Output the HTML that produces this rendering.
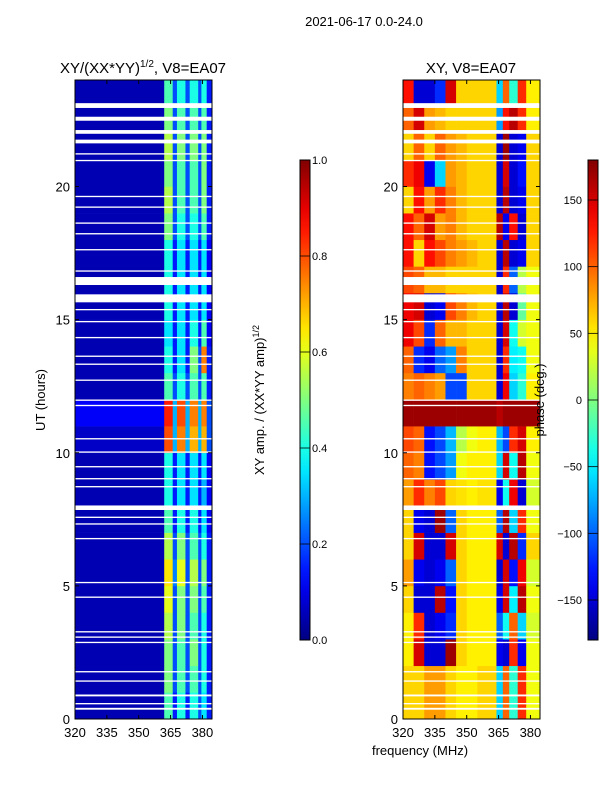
<!DOCTYPE html>
<html><head><meta charset="utf-8"><style>
body{margin:0;background:#fff;font-family:"Liberation Sans","DejaVu Sans",sans-serif}
svg text{font-family:"Liberation Sans","DejaVu Sans",sans-serif;fill:#000}
</style></head><body>
<svg id="fig" width="600" height="800" viewBox="0 0 600 800" xmlns="http://www.w3.org/2000/svg">
<text x="364" y="26" font-size="13" text-anchor="middle">2021-06-17 0.0-24.0</text>
<text x="143" y="73" font-size="15" text-anchor="middle">XY/(XX*YY)<tspan font-size="10" dy="-6">1/2</tspan><tspan dy="6">, V8=EA07</tspan></text>
<text x="471" y="73" font-size="15" text-anchor="middle">XY, V8=EA07</text>
<text transform="translate(45,400) rotate(-90)" font-size="13" text-anchor="middle">UT (hours)</text>
<text transform="translate(264,400) rotate(-90)" font-size="13" text-anchor="middle">XY amp. / (XX*YY amp)<tspan font-size="9" dy="-5">1/2</tspan></text>
<g id="left"></g>
<g id="right"></g>
<g id="cb1"></g>
<g id="cb2"></g>
<text transform="translate(544,400) rotate(-90)" font-size="13" text-anchor="middle">phase (deg.)</text>
<text x="420" y="755" font-size="13" text-anchor="middle">frequency (MHz)</text>
</svg>
<script>
const ampEdges=[320,362,366,368,372,374,378,379.5,382,384.5];
const ampRows=[
[.05,.45,.15,.4,.15,.4,.2,.35,.15],[.05,.5,.2,.45,.2,.45,.2,.4,.15],[.05,.5,.2,.45,.2,.5,.2,.4,.15],
[.05,.55,.2,.5,.2,.45,.2,.4,.15],[.05,.6,.2,.5,.2,.5,.2,.45,.15],[.05,.65,.25,.6,.2,.55,.2,.5,.15],
[.05,.55,.2,.5,.2,.45,.2,.4,.15],[.05,.45,.15,.4,.15,.4,.15,.35,.12],[.05,.4,.15,.35,.15,.35,.15,.3,.12],
[.05,.4,.15,.35,.15,.35,.15,.35,.12],[.07,.8,.3,.75,.3,.7,.3,.7,.2],[.12,.85,.3,.8,.3,.75,.3,.75,.2],
[.05,.45,.2,.4,.2,.45,.2,.45,.15],[.05,.4,.15,.35,.15,.5,.2,.75,.15],[.05,.35,.15,.35,.15,.4,.15,.45,.12],
[.05,.4,.15,.35,.15,.35,.15,.35,.12],[.05,.4,.15,.35,.15,.35,.15,.35,.12],[.05,.4,.15,.35,.15,.35,.15,.35,.12],
[.05,.5,.2,.4,.2,.4,.2,.45,.15],[.05,.55,.2,.45,.2,.45,.2,.5,.15],[.05,.5,.2,.45,.2,.45,.2,.5,.15],
[.05,.55,.2,.5,.2,.5,.2,.5,.15],[.05,.5,.2,.45,.2,.45,.2,.45,.15],[.05,.45,.2,.4,.2,.4,.2,.4,.15]];
const phEdges=[320,325,330,335,340,345,350,355,364,367,370,374,378,384.5];
const phRows=[
[60,60,80,80,60,50,50,60,-60,100,-30,120,40],[60,60,80,80,60,50,50,60,-60,100,-30,120,40],
[50,150,-150,-150,170,60,50,50,-140,-150,120,-140,40],[50,120,-150,-140,-120,60,50,50,-100,-40,100,-60,30],
[60,-150,-150,160,-130,60,50,50,-140,150,-50,160,40],[80,-140,-150,-140,-100,60,50,50,-150,150,-130,140,30],
[60,150,-150,-150,150,60,50,50,150,-150,160,-120,60],[60,-140,-150,170,-100,60,50,50,-100,160,-60,120,40],
[80,120,90,110,60,55,50,55,-140,-40,140,-150,30],[100,90,-130,-110,-80,40,50,50,-60,150,-40,160,40],
[110,100,-130,-110,-70,20,40,50,-70,-110,120,150,50],[170,170,170,170,170,170,170,170,160,170,170,170,170],
[90,100,90,80,-110,-110,60,60,-150,140,-60,-30,50],[100,-120,-140,-100,-80,90,60,60,-150,120,-50,-40,40],
[140,110,-120,100,70,70,60,60,-150,150,-40,30,40],[140,150,-150,-140,110,90,70,60,-150,160,-150,-10,40],
[110,100,70,70,60,60,60,60,-150,120,-100,20,40],[130,60,130,110,90,80,70,60,-150,160,-150,-140,60],
[130,100,150,80,90,70,60,60,160,-140,130,-150,60],[60,130,80,120,90,70,60,60,-150,160,-150,-140,60],
[120,140,-140,-60,80,70,60,60,-150,150,-150,-130,60],[60,100,60,100,80,70,60,60,-150,170,-150,-140,60],
[100,150,80,70,60,60,60,60,-80,130,160,120,50],[130,-150,-150,-120,150,60,60,60,-60,100,-30,120,50]];
const gaps=[[22.95,23.13],[22.47,22.62],[21.98,22.12],[21.62,21.76],[21.2,21.25],[20.95,21.0],[19.6,19.65],[19.2,19.25],[18.6,18.65],[18.2,18.25],[17.6,17.65],[16.8,16.85],[16.3,16.6],[15.65,15.95],[15.35,15.4],[14.9,14.95],[14.3,14.35],[13.6,13.65],[13.3,13.35],[12.7,12.75],[11.95,12.0],[11.75,11.8],[10.5,10.55],[10.0,10.05],[9.45,9.5],[9.0,9.05],[8.7,8.75],[7.85,8.02],[7.55,7.6],[7.3,7.35],[6.75,6.8],[5.1,5.15],[4.55,4.6],[3.25,3.3],[3.05,3.1],[2.85,2.9],[1.75,1.8],[1.4,1.45],[0.85,0.92],[0.55,0.6],[0.35,0.42]];
const yTicks=[0,5,10,15,20];
const xTicks=[320,335,350,365,380];
const ampTicks=[0.0,0.2,0.4,0.6,0.8,1.0];
const phTicks=[-150,-100,-50,0,50,100,150];

const NS='http://www.w3.org/2000/svg';
function jet(v){v=Math.max(0,Math.min(1,v));
 const c=x=>Math.round(255*Math.max(0,Math.min(1,1.5-Math.abs(4*v-x))));
 return `rgb(${c(3)},${c(2)},${c(1)})`;}
function mk(p,t,a){const e=document.createElementNS(NS,t);for(const k in a)e.setAttribute(k,a[k]);p.appendChild(e);return e;}
const Y0=719,Y1=80,yS=h=>Y0-(Y0-Y1)*h/24;
function panel(g,L,edges,rows,norm){
 const W=137,xS=f=>L+W*(f-320)/64.5;
 rows.forEach((row,h)=>row.forEach((v,i)=>{
  const r=mk(g,'rect',{x:xS(edges[i]),y:yS(h+1),width:xS(edges[i+1])-xS(edges[i])+0.3,height:yS(h)-yS(h+1)+0.3,fill:jet(norm(v))});
  
  
 }));
 gaps.forEach(gp=>{const r=mk(g,'rect',{x:L,y:yS(gp[1]),width:W,height:Math.max(1.2,yS(gp[0])-yS(gp[1])),fill:'#fff'});
  
  });
 mk(g,'rect',{x:L,y:Y1,width:W,height:Y0-Y1,fill:'none',stroke:'#000','stroke-width':1});
 yTicks.forEach(t=>{const y=yS(t);mk(g,'line',{x1:L,x2:L+4,y1:y,y2:y,stroke:'#000'});mk(g,'line',{x1:L+W-4,x2:L+W,y1:y,y2:y,stroke:'#000'});
  const tx=mk(g,'text',{x:L-5,y:y+5,'font-size':13,'text-anchor':'end'});tx.textContent=t;
  
  });
 xTicks.forEach(t=>{const x=xS(t);mk(g,'line',{x1:x,x2:x,y1:Y0,y2:Y0-4,stroke:'#000'});mk(g,'line',{x1:x,x2:x,y1:Y1,y2:Y1+4,stroke:'#000'});
  const tx=mk(g,'text',{x:x,y:737,'font-size':13,'text-anchor':'middle'});tx.textContent=t;
  
  });
}
panel(document.getElementById('left'),75,ampEdges,ampRows,v=>v);
panel(document.getElementById('right'),403,phEdges,phRows,v=>(v+180)/360);
function cbar(g,L,ticks,lo,hi,id,leftLabels){
 const T=160,B=640;
 const d=mk(document.getElementById('fig'),'defs',{});
 const lg=mk(d,'linearGradient',{id:id,x1:0,y1:1,x2:0,y2:0});
 for(let i=0;i<=20;i++)mk(lg,'stop',{offset:i/20,'stop-color':jet(i/20)});
 mk(g,'rect',{x:L,y:T,width:10,height:B-T,fill:`url(#${id})`,stroke:'#000'});
 ticks.forEach(t=>{const y=B-(B-T)*(t-lo)/(hi-lo);
  mk(g,'line',{x1:L,x2:L+10,y1:y,y2:y,stroke:'#000','stroke-width':0.8});
  const tx=leftLabels?mk(g,'text',{x:L-6,y:y+4,'font-size':11,'text-anchor':'end'}):mk(g,'text',{x:L+12,y:y+4,'font-size':11});
  tx.textContent=(id==='g1'?t.toFixed(1):(t<0?'\u2212'+(-t):t));
  
  });
}
cbar(document.getElementById('cb1'),300,ampTicks,0,1,'g1',false);
cbar(document.getElementById('cb2'),588,phTicks,-180,180,'g2',true);
</script>
</body></html>
